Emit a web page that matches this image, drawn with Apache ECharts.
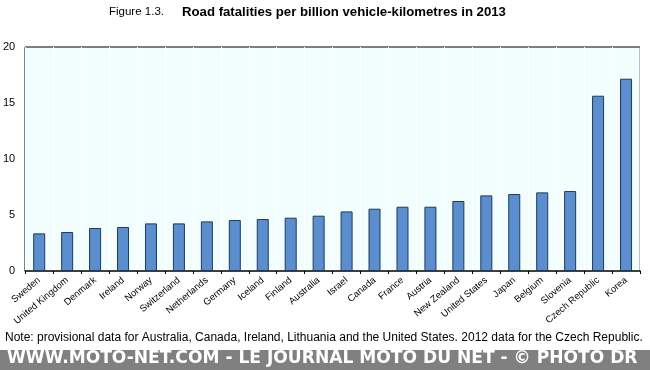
<!DOCTYPE html>
<html>
<head>
<meta charset="utf-8">
<script src="https://cdn.jsdelivr.net/npm/echarts@6/dist/echarts.min.js"></script>
<style>
html,body{margin:0;padding:0;background:#fff;}
#chart{width:650px;height:370px;}
</style>
</head>
<body>
<div id="chart"></div>
<script>
var categories = ["Sweden","United Kingdom","Denmark","Ireland","Norway","Switzerland","Netherlands","Germany","Iceland","Finland","Australia","Israel","Canada","France","Austria","New Zealand","United States","Japan","Belgium","Slovenia","Czech Republic","Korea"];
var values = [3.36,3.48,3.84,3.93,4.25,4.25,4.43,4.55,4.64,4.76,4.94,5.32,5.56,5.74,5.74,6.25,6.75,6.87,7.02,7.14,15.65,17.17];
var yTicks = [0,5,10,15,20];
var titlePrefix = "Figure 1.3.";
var titleMain = "Road fatalities per billion vehicle-kilometres in 2013";
var noteText = "Note: provisional data for Australia, Canada, Ireland, Lithuania and the United States. 2012 data for the Czech Republic.";
var watermark = "WWW.MOTO-NET.COM - LE JOURNAL MOTO DU NET - \u00A9 PHOTO DR";

var chart = echarts.init(document.getElementById('chart'));
var font = '"Liberation Sans", Arial, sans-serif';
chart.setOption({
  animation: false,
  textStyle: {fontFamily: font},
  grid: {left: 25, right: 10, top: 47, bottom: 99, show: true, backgroundColor: '#F2FEFE', borderColor: 'transparent'},
  xAxis: {
    type: 'category',
    data: categories,
    axisLine: {lineStyle: {color: '#000', width: 1.5}},
    axisTick: {show: true, alignWithLabel: false, length: 3, inside: false, lineStyle: {color: '#000'}},
    axisLabel: {rotate: 40, fontSize: 9.5, color: '#000', margin: 8, interval: 0, fontFamily: font},
    splitLine: {show: true, lineStyle: {color: '#FFFFFF', width: 1}}
  },
  yAxis: {
    type: 'value',
    min: yTicks[0], max: yTicks[yTicks.length-1], interval: 5,
    axisLine: {show: false},
    axisTick: {show: false},
    splitLine: {show: false},
    axisLabel: {fontSize: 11, color: '#000', margin: 10, fontFamily: font}
  },
  series: [{
    type: 'bar',
    data: values,
    barWidth: '43%',
    itemStyle: {color: '#5A8ECE', borderColor: '#233A55', borderWidth: 1}
  }],
  graphic: [
    {type: 'line', shape: {x1: 25, y1: 47, x2: 640, y2: 47}, style: {stroke: '#000', lineWidth: 1}},
    {type: 'line', shape: {x1: 25, y1: 47, x2: 25, y2: 271}, style: {stroke: '#000', lineWidth: 1}},
    {type: 'line', shape: {x1: 640, y1: 47, x2: 640, y2: 271}, style: {stroke: '#888', lineWidth: 1}},
    {type: 'text', x: 109, y: 12, style: {text: titlePrefix, fontSize: 11.5, fontFamily: font, fill: '#000', verticalAlign: 'middle'}},
    {type: 'text', x: 182, y: 12, style: {text: titleMain, fontSize: 13.2, fontWeight: 'bold', fontFamily: font, fill: '#000', verticalAlign: 'middle'}},
    {type: 'text', left: 5, top: 332, style: {text: noteText, fontSize: 12, fontFamily: font, fill: '#000'}},
    {type: 'rect', shape: {x: 0, y: 350, width: 650, height: 20}, style: {fill: '#808080'}},
    {type: 'text', left: 7, top: 350, style: {text: watermark, fontSize: 17.1, fontWeight: 'bold', fontFamily: '"DejaVu Sans", sans-serif', fill: '#fff'}}
  ]
});
</script>
</body>
</html>
